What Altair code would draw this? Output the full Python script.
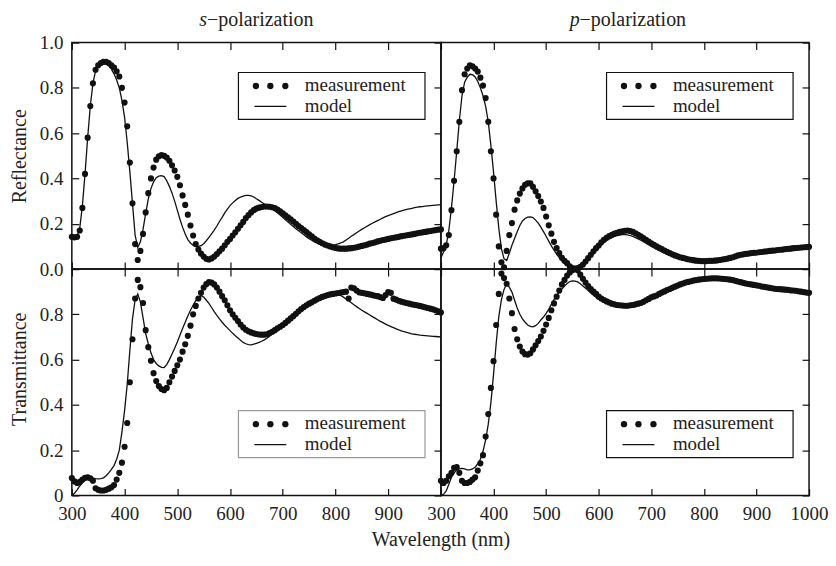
import altair as alt
import pandas as pd

# ---------------- data ----------------
WAVELENGTH_NM = list(range(300, 1001, 5))

# s-polarization, reflectance
S_R_MEAS = [
    0.142, 0.140, 0.142, 0.170, 0.270, 0.420, 0.580, 0.720, 0.820, 0.880,
    0.900, 0.910, 0.915, 0.915, 0.910, 0.900, 0.890, 0.873, 0.850, 0.800,
    0.735, 0.630, 0.470, 0.290, 0.110, 0.040, 0.080, 0.155, 0.250, 0.335,
    0.400, 0.448, 0.483, 0.498, 0.503, 0.500, 0.492, 0.478, 0.458, 0.435,
    0.407, 0.370, 0.325, 0.283, 0.240, 0.192, 0.148, 0.110, 0.086, 0.068,
    0.055, 0.045, 0.042, 0.047, 0.055, 0.066, 0.078, 0.090, 0.105, 0.120,
    0.133, 0.148, 0.162, 0.178, 0.193, 0.208, 0.225, 0.238, 0.250, 0.260,
    0.267, 0.271, 0.274, 0.276, 0.276, 0.275, 0.273, 0.269, 0.263, 0.255,
    0.246, 0.237, 0.228, 0.219, 0.210, 0.200, 0.190, 0.181, 0.172, 0.163,
    0.153, 0.144, 0.135, 0.127, 0.120, 0.114, 0.108, 0.104, 0.100, 0.096,
    0.093, 0.091, 0.090, 0.090, 0.090, 0.091, 0.092, 0.094, 0.096, 0.099,
    0.102, 0.105, 0.108, 0.112, 0.115, 0.118, 0.122, 0.125, 0.128, 0.130,
    0.133, 0.136, 0.138, 0.140, 0.142, 0.145, 0.147, 0.149, 0.151, 0.153,
    0.155, 0.158, 0.160, 0.162, 0.164, 0.166, 0.168, 0.170, 0.172, 0.174,
    0.175,
]
S_R_MODEL = [
    0.145, 0.140, 0.145, 0.180, 0.280, 0.420, 0.580, 0.720, 0.820, 0.875,
    0.900, 0.910, 0.912, 0.908, 0.898, 0.883, 0.862, 0.835, 0.800, 0.745,
    0.670, 0.560, 0.430, 0.290, 0.150, 0.095, 0.120, 0.175, 0.245, 0.310,
    0.355, 0.385, 0.403, 0.410, 0.412, 0.408, 0.390, 0.365, 0.335, 0.300,
    0.260, 0.220, 0.185, 0.155, 0.130, 0.115, 0.105, 0.100, 0.100, 0.103,
    0.112, 0.125, 0.140, 0.155, 0.172, 0.190, 0.210, 0.228, 0.248, 0.265,
    0.280, 0.292, 0.303, 0.312, 0.318, 0.322, 0.325, 0.325, 0.323, 0.318,
    0.310, 0.303, 0.295, 0.287, 0.280, 0.273, 0.266, 0.258, 0.248, 0.238,
    0.228, 0.218, 0.208, 0.198, 0.188, 0.178, 0.169, 0.160, 0.151, 0.142,
    0.134, 0.127, 0.120, 0.115, 0.111, 0.108, 0.106, 0.105, 0.105, 0.106,
    0.108, 0.111, 0.115, 0.120, 0.128, 0.136, 0.145, 0.152, 0.160, 0.168,
    0.175, 0.182, 0.189, 0.196, 0.202, 0.208, 0.214, 0.220, 0.226, 0.231,
    0.236, 0.240, 0.245, 0.249, 0.253, 0.257, 0.260, 0.263, 0.266, 0.268,
    0.271, 0.273, 0.275, 0.276, 0.278, 0.279, 0.280, 0.281, 0.282, 0.283,
    0.284,
]

# s-polarization, transmittance
S_T_MEAS = [
    0.077, 0.062, 0.055, 0.060, 0.070, 0.078, 0.080, 0.076, 0.065, 0.032,
    0.025, 0.022, 0.022, 0.025, 0.030, 0.036, 0.046, 0.070, 0.100, 0.145,
    0.215, 0.320, 0.500, 0.690, 0.870, 0.952, 0.920, 0.850, 0.730, 0.655,
    0.595, 0.540, 0.505, 0.483, 0.470, 0.465, 0.475, 0.500, 0.525, 0.550,
    0.575, 0.600, 0.635, 0.668, 0.705, 0.750, 0.800, 0.837, 0.870, 0.895,
    0.918, 0.933, 0.942, 0.940, 0.932, 0.918, 0.900, 0.880, 0.862, 0.840,
    0.818, 0.800, 0.785, 0.770, 0.755, 0.742, 0.732, 0.725, 0.720, 0.716,
    0.713, 0.711, 0.710, 0.710, 0.712, 0.717, 0.723, 0.730, 0.738, 0.745,
    0.753, 0.762, 0.772, 0.782, 0.792, 0.802, 0.813, 0.823, 0.832, 0.840,
    0.847, 0.853, 0.860, 0.866, 0.872, 0.877, 0.881, 0.885, 0.888, 0.890,
    0.892, 0.894, 0.896, 0.898, 0.900, 0.870, 0.918, 0.915, 0.905, 0.897,
    0.895, 0.893, 0.890, 0.888, 0.885, 0.882, 0.880, 0.876, 0.872, 0.885,
    0.898, 0.895, 0.869, 0.865, 0.860, 0.856, 0.853, 0.850, 0.847, 0.844,
    0.842, 0.840, 0.837, 0.834, 0.831, 0.828, 0.825, 0.822, 0.818, 0.813,
    0.808,
]
S_T_MODEL = [
    0.000, 0.010, 0.025, 0.042, 0.056, 0.066, 0.074, 0.077, 0.076, 0.074,
    0.073, 0.074, 0.078, 0.087, 0.100, 0.115, 0.132, 0.160, 0.200, 0.280,
    0.375, 0.490, 0.640, 0.780, 0.865, 0.890, 0.855, 0.785, 0.715, 0.670,
    0.630, 0.600, 0.583, 0.572, 0.566, 0.565, 0.578, 0.600, 0.625, 0.650,
    0.678, 0.708, 0.737, 0.765, 0.793, 0.818, 0.840, 0.860, 0.875, 0.882,
    0.876, 0.862, 0.848, 0.830, 0.812, 0.795, 0.780, 0.765, 0.752, 0.740,
    0.728, 0.716, 0.705, 0.695, 0.685, 0.676, 0.670, 0.666, 0.665, 0.668,
    0.672, 0.676, 0.681, 0.687, 0.694, 0.703, 0.713, 0.723, 0.733, 0.743,
    0.753, 0.763, 0.773, 0.783, 0.793, 0.803, 0.812, 0.821, 0.829, 0.837,
    0.845, 0.852, 0.859, 0.866, 0.873, 0.878, 0.883, 0.887, 0.889, 0.890,
    0.890, 0.888, 0.883, 0.876, 0.868, 0.860, 0.851, 0.842, 0.834, 0.826,
    0.818, 0.811, 0.804, 0.797, 0.790, 0.783, 0.776, 0.769, 0.763, 0.757,
    0.751, 0.746, 0.741, 0.736, 0.731, 0.727, 0.723, 0.720, 0.717, 0.714,
    0.712, 0.710, 0.708, 0.707, 0.706, 0.705, 0.704, 0.703, 0.702, 0.701,
    0.700,
]

# p-polarization, reflectance
P_R_MEAS = [
    0.090, 0.092, 0.105, 0.150, 0.260, 0.390, 0.520, 0.650, 0.790, 0.860,
    0.885, 0.900, 0.895, 0.885, 0.872, 0.845, 0.810, 0.755, 0.650, 0.520,
    0.400, 0.240, 0.100, 0.030, 0.008, 0.080, 0.150, 0.203, 0.262, 0.303,
    0.333, 0.356, 0.372, 0.379, 0.378, 0.363, 0.343, 0.322, 0.298, 0.270,
    0.232, 0.193, 0.156, 0.120, 0.093, 0.070, 0.050, 0.036, 0.026, 0.012,
    0.004, 0.002, 0.004, 0.010, 0.020, 0.033, 0.048, 0.063, 0.078, 0.092,
    0.104, 0.118, 0.129, 0.138, 0.145, 0.151, 0.156, 0.160, 0.164, 0.167,
    0.169, 0.170, 0.168, 0.164, 0.158, 0.151, 0.144, 0.137, 0.129, 0.121,
    0.114, 0.107, 0.100, 0.094, 0.088, 0.082, 0.076, 0.070, 0.065, 0.060,
    0.056, 0.052, 0.049, 0.046, 0.043, 0.041, 0.039, 0.037, 0.036, 0.035,
    0.035, 0.035, 0.036, 0.036, 0.037, 0.038, 0.040, 0.042, 0.044, 0.046,
    0.049, 0.052, 0.056, 0.060, 0.063, 0.065, 0.067, 0.068, 0.070, 0.071,
    0.072, 0.074, 0.075, 0.077, 0.078, 0.080, 0.081, 0.082, 0.084, 0.085,
    0.086, 0.088, 0.089, 0.090, 0.092, 0.093, 0.094, 0.095, 0.096, 0.097,
    0.098,
]
P_R_MODEL = [
    0.050, 0.075, 0.105, 0.170, 0.270, 0.390, 0.520, 0.655, 0.765, 0.825,
    0.847, 0.860, 0.858, 0.848, 0.828, 0.800, 0.765, 0.718, 0.650, 0.545,
    0.428, 0.300, 0.180, 0.090, 0.045, 0.038, 0.070, 0.105, 0.135, 0.165,
    0.192, 0.212, 0.223, 0.229, 0.230, 0.227, 0.216, 0.203, 0.185, 0.165,
    0.145, 0.123, 0.102, 0.083, 0.066, 0.050, 0.036, 0.024, 0.015, 0.007,
    0.003, 0.004, 0.008, 0.015, 0.024, 0.035, 0.047, 0.058, 0.070, 0.082,
    0.094, 0.106, 0.117, 0.126, 0.134, 0.139, 0.144, 0.148, 0.150, 0.152,
    0.152, 0.151, 0.148, 0.144, 0.139, 0.133, 0.127, 0.121, 0.114, 0.107,
    0.100, 0.094, 0.088, 0.082, 0.076, 0.071, 0.066, 0.061, 0.057, 0.053,
    0.050, 0.047, 0.045, 0.043, 0.041, 0.039, 0.038, 0.037, 0.036, 0.035,
    0.035, 0.035, 0.035, 0.036, 0.037, 0.038, 0.039, 0.041, 0.043, 0.045,
    0.047, 0.050, 0.053, 0.056, 0.059, 0.062, 0.064, 0.066, 0.068, 0.070,
    0.071, 0.073, 0.074, 0.076, 0.077, 0.079, 0.080, 0.082, 0.083, 0.084,
    0.086, 0.087, 0.088, 0.090, 0.091, 0.092, 0.093, 0.094, 0.095, 0.096,
    0.097,
]

# p-polarization, transmittance
P_T_MEAS = [
    0.065, 0.055, 0.065, 0.085, 0.100, 0.122, 0.125, 0.100, 0.065, 0.055,
    0.055, 0.060, 0.070, 0.080, 0.110, 0.142, 0.178, 0.260, 0.360, 0.475,
    0.593, 0.753, 0.890, 0.980, 0.960, 0.935, 0.870, 0.805, 0.735, 0.690,
    0.658, 0.636, 0.624, 0.622, 0.628, 0.645, 0.663, 0.682, 0.702, 0.727,
    0.755, 0.784, 0.818, 0.848, 0.878, 0.905, 0.932, 0.952, 0.971, 0.985,
    0.995, 1.000, 0.995, 0.975, 0.957, 0.940, 0.925, 0.912, 0.900, 0.890,
    0.878, 0.870, 0.863, 0.857, 0.852, 0.847, 0.844, 0.841, 0.840, 0.839,
    0.838, 0.838, 0.840, 0.841, 0.844, 0.847, 0.850, 0.855, 0.862, 0.868,
    0.875, 0.879, 0.883, 0.890, 0.896, 0.901, 0.907, 0.912, 0.917, 0.922,
    0.927, 0.932, 0.936, 0.940, 0.943, 0.946, 0.949, 0.951, 0.953, 0.955,
    0.956, 0.957, 0.958, 0.959, 0.959, 0.959, 0.958, 0.957, 0.956, 0.955,
    0.953, 0.951, 0.948, 0.945, 0.942, 0.939, 0.936, 0.934, 0.932, 0.930,
    0.928, 0.926, 0.923, 0.921, 0.919, 0.917, 0.915, 0.913, 0.912, 0.911,
    0.910, 0.909, 0.908, 0.906, 0.905, 0.904, 0.902, 0.900, 0.898, 0.896,
    0.895,
]
P_T_MODEL = [
    0.000, 0.005, 0.020, 0.050, 0.080, 0.100, 0.112, 0.118, 0.120, 0.117,
    0.113, 0.113, 0.117, 0.125, 0.140, 0.160, 0.195, 0.245, 0.315, 0.410,
    0.535, 0.670, 0.790, 0.865, 0.910, 0.934, 0.920, 0.898, 0.862, 0.828,
    0.800, 0.780, 0.765, 0.753, 0.747, 0.745, 0.750, 0.760, 0.775, 0.788,
    0.804, 0.822, 0.845, 0.865, 0.882, 0.897, 0.912, 0.925, 0.936, 0.945,
    0.948, 0.947, 0.943, 0.935, 0.925, 0.915, 0.905, 0.894, 0.884, 0.876,
    0.868, 0.862, 0.856, 0.851, 0.846, 0.842, 0.840, 0.839, 0.838, 0.837,
    0.837, 0.837, 0.839, 0.840, 0.843, 0.846, 0.849, 0.854, 0.860, 0.866,
    0.872, 0.877, 0.882, 0.888, 0.894, 0.899, 0.905, 0.910, 0.915, 0.920,
    0.925, 0.930, 0.934, 0.938, 0.942, 0.945, 0.948, 0.950, 0.952, 0.954,
    0.955, 0.956, 0.957, 0.958, 0.958, 0.958, 0.957, 0.956, 0.955, 0.954,
    0.952, 0.950, 0.947, 0.944, 0.941, 0.938, 0.935, 0.933, 0.931, 0.929,
    0.927, 0.925, 0.922, 0.920, 0.918, 0.916, 0.914, 0.912, 0.911, 0.910,
    0.909, 0.908, 0.907, 0.905, 0.904, 0.903, 0.901, 0.899, 0.897, 0.895,
    0.894,
]

X_TICKS = [300, 400, 500, 600, 700, 800, 900, 1000]
Y_TICKS = [0.0, 0.2, 0.4, 0.6, 0.8, 1.0]
LEGEND_LABELS = ["measurement", "model"]

# ---------------- styling ----------------
LEFT_W, RIGHT_W, PANEL_H = 370, 369, 227
FONT = "Liberation Serif"
INK = "#111111"
TXT = "#222222"


def axis(orient, values, **kw):
    opts = dict(orient=orient, values=values, labels=False, title=None)
    opts.update(kw)
    return alt.Axis(**opts)


def legend_layers(x0, box_top, box_stroke):
    one = alt.Data(values=[{"k": 0}])
    x1 = x0 + 187
    y0, y1 = box_top, box_top + 47
    layers = [
        alt.Chart(one).mark_rect(fill="white", stroke=box_stroke, strokeWidth=1.2).encode(
            x=alt.value(x0), x2=alt.value(x1), y=alt.value(y0), y2=alt.value(y1))
    ]
    for dx in (17.5, 32, 47):
        layers.append(alt.Chart(one).mark_circle(size=40, color=INK, opacity=1).encode(
            x=alt.value(x0 + dx), y=alt.value(y0 + 13.5)))
    layers.append(alt.Chart(one).mark_rule(color=INK, strokeWidth=1.3).encode(
        x=alt.value(x0 + 16), x2=alt.value(x0 + 48), y=alt.value(y0 + 34)))
    for i, lab in enumerate(LEGEND_LABELS):
        layers.append(alt.Chart(one).mark_text(
            text=lab, align="left", baseline="alphabetic", font=FONT, fontSize=19, color=TXT
        ).encode(x=alt.value(x0 + 66.5), y=alt.value(y0 + 18.8 + 20.7 * i)))
    return layers


def header_layers(letter, split):
    one = alt.Data(values=[{"k": 0}])
    a = alt.Chart(one).mark_text(
        text=letter, align="right", baseline="alphabetic", font=FONT, fontSize=20,
        fontStyle="italic", color=TXT
    ).encode(x=alt.value(split), y=alt.value(-17))
    b = alt.Chart(one).mark_text(
        text="\u2212polarization", align="left", baseline="alphabetic", font=FONT,
        fontSize=20, color=TXT
    ).encode(x=alt.value(split), y=alt.value(-17))
    return [a, b]


def panel(meas, model, width, x_axis, y_axis, box_x, box_top, box_stroke=INK, extra=None):
    df = pd.DataFrame({"wl": WAVELENGTH_NM, "meas": meas, "model": model})
    xs = alt.Scale(domain=[300, 1000], nice=False, zero=False)
    ys = alt.Scale(domain=[0, 1], nice=False, zero=False)
    base = alt.Chart(df)
    pts = base.mark_circle(size=38, color=INK, opacity=1).encode(
        x=alt.X("wl:Q", scale=xs, axis=x_axis),
        y=alt.Y("meas:Q", scale=ys, axis=y_axis),
    )
    line = base.mark_line(color=INK, strokeWidth=1.3).encode(
        x=alt.X("wl:Q", scale=xs, axis=axis("top", X_TICKS)),
        y=alt.Y("model:Q", scale=ys, axis=axis("right", Y_TICKS)),
    )
    layers = [pts, line] + legend_layers(box_x, box_top, box_stroke) + (extra or [])
    return (
        alt.layer(*layers)
        .resolve_axis(x="independent", y="independent")
        .properties(width=width, height=PANEL_H)
    )


tl = panel(
    S_R_MEAS, S_R_MODEL, LEFT_W,
    axis("bottom", X_TICKS),
    axis("left", Y_TICKS, labels=True, format=".1f", title="Reflectance"),
    box_x=167, box_top=30, extra=header_layers("s", 135.5),
)
tr = panel(
    P_R_MEAS, P_R_MODEL, RIGHT_W,
    axis("bottom", X_TICKS),
    None,
    box_x=166, box_top=30, extra=header_layers("p", 139),
)
bl = panel(
    S_T_MEAS, S_T_MODEL, LEFT_W,
    axis("bottom", X_TICKS, labels=True, format="d",
         labelExpr="datum.value > 950 ? '' : datum.label",
         title="Wavelength (nm)", titleX=(LEFT_W + RIGHT_W) / 2, titleY=57,
         titleAlign="center", titleBaseline="alphabetic"),
    axis("left", Y_TICKS, labels=True,
         labelExpr="datum.value == 0 ? '0' : (datum.value > 0.95 ? '' : format(datum.value, '.1f'))",
         title="Transmittance", titleY=100),
    box_x=167, box_top=142, box_stroke="#999999",
)
br = panel(
    P_T_MEAS, P_T_MODEL, RIGHT_W,
    axis("bottom", X_TICKS, labels=True, format="d"),
    None,
    box_x=166, box_top=142,
)

chart = (
    alt.concat(tl, tr, bl, br, columns=2, spacing=0, bounds="flush")
    .properties(padding={"left": 0, "top": 0, "right": -1, "bottom": 0}, background="white")
    .configure_view(stroke=INK, strokeWidth=1.5)
    .configure_axis(
        domain=False, grid=False, ticks=True, tickSize=7, tickWidth=1.2, tickColor=INK,
        offset=-7, labelPadding=9, labelFont=FONT, labelFontSize=19, labelColor=TXT,
        labelFlush=False, labelOverlap=False, titleFont=FONT, titleFontSize=20,
        titleFontWeight="normal", titleColor=TXT, titlePadding=10,
    )
)

chart.save("out.html", embed_options={"renderer": "svg", "actions": False})
